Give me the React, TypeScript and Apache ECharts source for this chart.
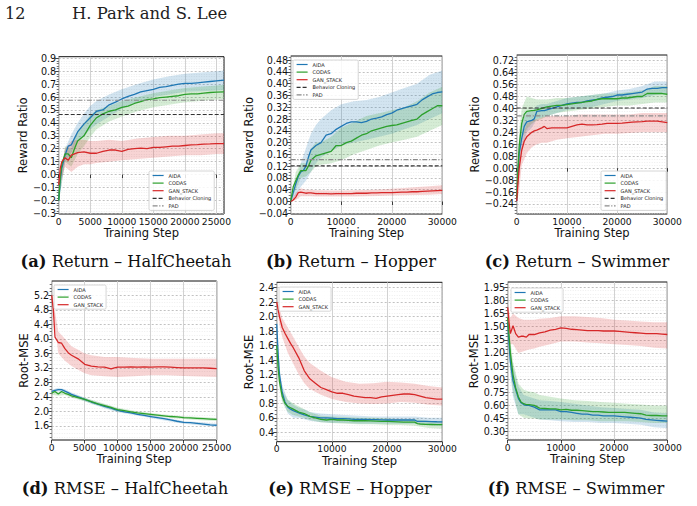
import React, { useEffect, useRef } from 'react';
import * as echarts from 'echarts';

const W = 697;
const H = 506;
const SANS = '"DejaVu Sans", sans-serif';
const SERIF = '"DejaVu Serif", serif';

const COLOR_AIDA = '#1f77b4';
const COLOR_CODAS = '#2ca02c';
const COLOR_GAN = '#d62728';
const COLOR_BC = '#333333';
const COLOR_PAD = '#8a8a8a';

const METHODS = ['AIDA', 'CODAS', 'GAN_STACK'];
const BASELINES = ['Behavior Cloning', 'PAD'];

// ---------- (a) Return – HalfCheetah ----------
const A_STEPS = [0, 250, 500, 1000, 1500, 2000, 2500, 3000, 4000, 5000, 6000, 7000, 8000, 9000, 10000, 11000, 12000, 13000, 14000, 15000, 16000, 17000, 18000, 19000, 20000, 21000, 22000, 23000, 24000, 25000, 26200];
const A_AIDA = [-0.2, -0.05, 0.05, 0.15, 0.22, 0.23, 0.28, 0.33, 0.39, 0.44, 0.49, 0.5, 0.54, 0.56, 0.585, 0.605, 0.62, 0.64, 0.65, 0.66, 0.675, 0.68, 0.69, 0.7, 0.705, 0.705, 0.71, 0.715, 0.72, 0.725, 0.73];
const A_CODAS = [-0.2, -0.02, 0.08, 0.16, 0.16, 0.13, 0.2, 0.26, 0.3, 0.38, 0.44, 0.47, 0.49, 0.5, 0.52, 0.53, 0.55, 0.565, 0.58, 0.585, 0.595, 0.6, 0.605, 0.61, 0.62, 0.625, 0.625, 0.63, 0.635, 0.638, 0.64];
const A_GAN = [-0.08, 0.05, 0.1, 0.13, 0.11, 0.15, 0.16, 0.17, 0.175, 0.165, 0.165, 0.18, 0.19, 0.19, 0.18, 0.195, 0.2, 0.205, 0.2, 0.21, 0.21, 0.215, 0.22, 0.22, 0.225, 0.23, 0.232, 0.235, 0.237, 0.24, 0.24];
const A_BAND_STEPS = [0, 1000, 2000, 3000, 4000, 5000, 6000, 8000, 10000, 12500, 15000, 17500, 20000, 22500, 25000, 26200];
const A_AIDA_LO = [-0.22, 0.09, 0.17, 0.26, 0.3, 0.35, 0.39, 0.45, 0.51, 0.56, 0.6, 0.62, 0.64, 0.645, 0.65, 0.655];
const A_AIDA_HI = [-0.18, 0.2, 0.31, 0.4, 0.47, 0.53, 0.57, 0.62, 0.66, 0.7, 0.735, 0.76, 0.78, 0.79, 0.8, 0.805];
const A_CODAS_LO = [-0.22, 0.1, 0.06, 0.16, 0.22, 0.29, 0.35, 0.41, 0.45, 0.49, 0.52, 0.54, 0.56, 0.57, 0.58, 0.585];
const A_CODAS_HI = [-0.18, 0.22, 0.2, 0.34, 0.4, 0.46, 0.5, 0.53, 0.57, 0.6, 0.63, 0.65, 0.67, 0.68, 0.69, 0.695];
const A_GAN_LO = [-0.12, 0.06, 0.02, 0.06, 0.08, 0.08, 0.09, 0.1, 0.11, 0.12, 0.13, 0.14, 0.15, 0.15, 0.16, 0.16];
const A_GAN_HI = [-0.04, 0.2, 0.26, 0.27, 0.27, 0.26, 0.26, 0.27, 0.26, 0.28, 0.29, 0.3, 0.3, 0.31, 0.32, 0.32];
const A_BC = 0.465;
const A_PAD = 0.575;

// ---------- (b) Return – Hopper ----------
const B_STEPS = [0, 500, 1000, 1500, 2000, 2500, 3000, 3500, 4000, 5000, 6000, 7000, 8000, 9000, 10000, 11000, 12000, 13000, 14000, 15000, 16000, 17000, 18000, 19000, 20000, 21000, 22000, 23000, 24000, 25000, 26000, 27000, 28000, 29000, 30000];
const B_AIDA = [0, 0.03, 0.06, 0.085, 0.1, 0.105, 0.12, 0.15, 0.175, 0.19, 0.2, 0.225, 0.23, 0.245, 0.255, 0.265, 0.27, 0.27, 0.268, 0.272, 0.28, 0.283, 0.287, 0.295, 0.3, 0.31, 0.315, 0.32, 0.325, 0.33, 0.345, 0.355, 0.365, 0.37, 0.372];
const B_CODAS = [0, 0.05, 0.07, 0.09, 0.105, 0.105, 0.105, 0.12, 0.14, 0.155, 0.16, 0.165, 0.17, 0.19, 0.19, 0.2, 0.205, 0.215, 0.225, 0.23, 0.24, 0.245, 0.25, 0.255, 0.258, 0.26, 0.265, 0.27, 0.275, 0.28, 0.295, 0.305, 0.315, 0.325, 0.325];
const B_GAN = [0, 0.005, 0.015, 0.03, 0.032, 0.03, 0.028, 0.029, 0.029, 0.027, 0.027, 0.027, 0.026, 0.027, 0.027, 0.027, 0.027, 0.028, 0.028, 0.028, 0.029, 0.029, 0.03, 0.03, 0.03, 0.031, 0.032, 0.032, 0.033, 0.033, 0.034, 0.035, 0.036, 0.037, 0.038];
const B_BAND_STEPS = [0, 1000, 2000, 3000, 4000, 5000, 6000, 8000, 10000, 12500, 15000, 17500, 20000, 22500, 25000, 27500, 30000];
const B_AIDA_LO = [0, 0.02, 0.05, 0.07, 0.1, 0.13, 0.15, 0.17, 0.19, 0.2, 0.21, 0.22, 0.23, 0.245, 0.26, 0.28, 0.3];
const B_AIDA_HI = [0, 0.06, 0.13, 0.18, 0.23, 0.26, 0.28, 0.31, 0.33, 0.34, 0.345, 0.355, 0.37, 0.385, 0.4, 0.43, 0.445];
const B_CODAS_LO = [0, 0.04, 0.08, 0.085, 0.1, 0.12, 0.125, 0.13, 0.14, 0.16, 0.175, 0.19, 0.2, 0.21, 0.22, 0.24, 0.26];
const B_CODAS_HI = [0, 0.1, 0.13, 0.13, 0.18, 0.2, 0.2, 0.22, 0.25, 0.27, 0.29, 0.3, 0.31, 0.32, 0.34, 0.37, 0.39];
const B_GAN_LO = [0, 0.005, 0.018, 0.018, 0.018, 0.017, 0.017, 0.017, 0.017, 0.017, 0.018, 0.019, 0.02, 0.021, 0.022, 0.023, 0.025];
const B_GAN_HI = [0, 0.03, 0.045, 0.04, 0.04, 0.038, 0.038, 0.037, 0.037, 0.038, 0.039, 0.041, 0.043, 0.046, 0.049, 0.052, 0.055];
const B_BC = 0.121;
const B_PAD = 0.142;

// ---------- (c) Return – Swimmer ----------
const C_STEPS = [0, 250, 500, 1000, 1500, 2000, 3000, 3500, 4000, 5000, 5500, 6000, 7000, 8000, 9000, 10000, 11000, 12000, 13000, 14000, 15000, 16000, 17000, 18000, 19000, 20000, 21000, 22000, 23000, 24000, 25000, 26000, 27000, 28000, 29000, 30000];
const C_AIDA = [-0.22, -0.05, 0.1, 0.2, 0.28, 0.31, 0.32, 0.33, 0.38, 0.385, 0.385, 0.39, 0.4, 0.41, 0.42, 0.43, 0.435, 0.44, 0.44, 0.45, 0.455, 0.46, 0.47, 0.475, 0.48, 0.49, 0.49, 0.495, 0.5, 0.505, 0.51, 0.53, 0.535, 0.535, 0.54, 0.54];
const C_CODAS = [-0.2, 0, 0.15, 0.3, 0.36, 0.38, 0.385, 0.387, 0.39, 0.4, 0.405, 0.41, 0.415, 0.42, 0.42, 0.425, 0.43, 0.435, 0.44, 0.445, 0.45, 0.46, 0.465, 0.465, 0.465, 0.465, 0.47, 0.47, 0.475, 0.48, 0.48, 0.5, 0.5, 0.5, 0.5, 0.495];
const C_GAN = [-0.22, -0.1, 0, 0.12, 0.18, 0.21, 0.24, 0.25, 0.255, 0.27, 0.28, 0.265, 0.27, 0.27, 0.27, 0.27, 0.28, 0.29, 0.295, 0.29, 0.29, 0.292, 0.295, 0.3, 0.3, 0.3, 0.302, 0.305, 0.308, 0.31, 0.312, 0.315, 0.315, 0.315, 0.31, 0.305];
const C_BAND_STEPS = [0, 500, 1000, 2000, 3000, 4000, 5000, 6000, 8000, 10000, 12500, 15000, 17500, 20000, 22500, 25000, 27500, 30000];
const C_AIDA_LO = [-0.24, 0, 0.12, 0.24, 0.27, 0.33, 0.34, 0.35, 0.37, 0.39, 0.4, 0.41, 0.43, 0.45, 0.46, 0.47, 0.49, 0.5];
const C_AIDA_HI = [-0.2, 0.2, 0.3, 0.38, 0.38, 0.42, 0.43, 0.43, 0.45, 0.47, 0.48, 0.49, 0.5, 0.52, 0.53, 0.55, 0.58, 0.58];
const C_CODAS_LO = [-0.22, 0.05, 0.2, 0.26, 0.3, 0.32, 0.33, 0.35, 0.37, 0.38, 0.39, 0.4, 0.41, 0.42, 0.42, 0.43, 0.44, 0.44];
const C_CODAS_HI = [-0.18, 0.25, 0.4, 0.48, 0.47, 0.46, 0.46, 0.46, 0.47, 0.47, 0.48, 0.49, 0.5, 0.5, 0.51, 0.52, 0.55, 0.55];
const C_GAN_LO = [-0.24, -0.15, 0.02, 0.1, 0.14, 0.16, 0.17, 0.17, 0.19, 0.2, 0.21, 0.22, 0.23, 0.23, 0.235, 0.24, 0.24, 0.24];
const C_GAN_HI = [-0.2, 0.1, 0.2, 0.3, 0.32, 0.33, 0.34, 0.35, 0.35, 0.35, 0.36, 0.36, 0.36, 0.36, 0.36, 0.37, 0.37, 0.37];
const C_BC = 0.403;
const C_PAD = 0.35;

// ---------- (d) RMSE – HalfCheetah ----------
const D_STEPS = [0, 250, 500, 1000, 1500, 2000, 2500, 3000, 4000, 5000, 6000, 7000, 8000, 9000, 9500, 10000, 11000, 12000, 13000, 14000, 15000, 16000, 17000, 18000, 19000, 20000, 21000, 22000, 23000, 24000, 25000];
const D_AIDA = [2.55, 2.57, 2.58, 2.6, 2.6, 2.56, 2.52, 2.47, 2.4, 2.33, 2.26, 2.2, 2.14, 2.09, 2.06, 2.03, 1.99, 1.96, 1.92, 1.89, 1.86, 1.83, 1.8, 1.77, 1.73, 1.7, 1.69, 1.67, 1.65, 1.63, 1.62];
const D_CODAS = [2.5, 2.53, 2.55, 2.48, 2.55, 2.5, 2.47, 2.43, 2.38, 2.33, 2.27, 2.21, 2.16, 2.11, 2.08, 2.05, 2.02, 1.99, 1.96, 1.94, 1.92, 1.9, 1.88, 1.86, 1.85, 1.83, 1.82, 1.81, 1.8, 1.79, 1.78];
const D_GAN = [5.2, 4.8, 4.05, 3.9, 3.88, 3.73, 3.62, 3.55, 3.45, 3.3, 3.25, 3.23, 3.22, 3.17, 3.2, 3.22, 3.22, 3.23, 3.22, 3.23, 3.22, 3.23, 3.23, 3.22, 3.21, 3.2, 3.2, 3.2, 3.2, 3.19, 3.18];
const D_BAND_STEPS = [0, 1000, 2000, 3000, 4000, 5000, 6000, 8000, 10000, 12500, 15000, 17500, 20000, 22500, 25000];
const D_AIDA_LO = [2.5, 2.55, 2.51, 2.42, 2.35, 2.28, 2.21, 2.09, 1.98, 1.9, 1.82, 1.74, 1.66, 1.62, 1.58];
const D_AIDA_HI = [2.6, 2.65, 2.61, 2.52, 2.45, 2.38, 2.31, 2.19, 2.08, 1.98, 1.9, 1.82, 1.74, 1.7, 1.66];
const D_CODAS_LO = [2.46, 2.43, 2.45, 2.38, 2.33, 2.28, 2.22, 2.11, 2.0, 1.93, 1.88, 1.83, 1.79, 1.76, 1.74];
const D_CODAS_HI = [2.54, 2.53, 2.55, 2.48, 2.43, 2.38, 2.32, 2.21, 2.1, 2.02, 1.96, 1.91, 1.87, 1.85, 1.82];
const D_GAN_LO = [5.1, 3.6, 3.4, 3.25, 3.15, 3.05, 3.0, 2.97, 2.95, 2.97, 3.0, 3.0, 2.98, 2.96, 2.95];
const D_GAN_HI = [5.3, 4.2, 4.0, 3.8, 3.7, 3.6, 3.55, 3.5, 3.5, 3.47, 3.45, 3.45, 3.45, 3.45, 3.45];

// ---------- (e) RMSE – Hopper ----------
const E_STEPS = [0, 250, 500, 1000, 1500, 2000, 2500, 3000, 4000, 5000, 6000, 7000, 8000, 9000, 10000, 11000, 12000, 13000, 14000, 15000, 16000, 17000, 18000, 19000, 20000, 21000, 22000, 23000, 24000, 25000, 25500, 26000, 27000, 28000, 29000, 30000];
const E_AIDA = [1.9, 1.5, 1.2, 0.95, 0.82, 0.75, 0.72, 0.7, 0.67, 0.64, 0.62, 0.61, 0.6, 0.6, 0.595, 0.59, 0.59, 0.585, 0.58, 0.58, 0.578, 0.575, 0.575, 0.572, 0.57, 0.57, 0.57, 0.57, 0.57, 0.57, 0.55, 0.55, 0.55, 0.548, 0.546, 0.545];
const E_CODAS = [1.6, 1.3, 1.1, 0.9, 0.8, 0.76, 0.74, 0.72, 0.68, 0.66, 0.62, 0.6, 0.58, 0.57, 0.58, 0.57, 0.57, 0.565, 0.56, 0.56, 0.56, 0.558, 0.555, 0.552, 0.55, 0.548, 0.545, 0.542, 0.54, 0.54, 0.52, 0.515, 0.51, 0.508, 0.505, 0.505];
const E_GAN = [2.2, 2.1, 2.0, 1.85, 1.77, 1.7, 1.63, 1.57, 1.43, 1.25, 1.14, 1.08, 1.02, 0.99, 0.96, 0.94, 0.94, 0.92, 0.9, 0.89, 0.88, 0.88, 0.87, 0.89, 0.9, 0.91, 0.92, 0.93, 0.93, 0.92, 0.91, 0.9, 0.88, 0.87, 0.86, 0.86];
const E_BAND_STEPS = [0, 500, 1000, 2000, 3000, 4000, 5000, 6000, 8000, 10000, 12500, 15000, 17500, 20000, 22500, 25000, 27500, 30000];
const E_AIDA_LO = [1.85, 1.1, 0.85, 0.66, 0.6, 0.6, 0.58, 0.56, 0.54, 0.53, 0.53, 0.52, 0.52, 0.52, 0.52, 0.52, 0.5, 0.49];
const E_AIDA_HI = [1.95, 1.3, 1.05, 0.85, 0.78, 0.74, 0.72, 0.68, 0.66, 0.65, 0.64, 0.63, 0.62, 0.62, 0.62, 0.62, 0.6, 0.6];
const E_CODAS_LO = [1.55, 1.0, 0.82, 0.68, 0.64, 0.62, 0.6, 0.57, 0.54, 0.53, 0.52, 0.51, 0.51, 0.5, 0.5, 0.49, 0.46, 0.45];
const E_CODAS_HI = [1.65, 1.2, 0.98, 0.85, 0.8, 0.76, 0.72, 0.68, 0.63, 0.62, 0.61, 0.6, 0.6, 0.59, 0.58, 0.58, 0.56, 0.55];
const E_GAN_LO = [2.15, 1.88, 1.72, 1.5, 1.35, 1.2, 1.08, 1.0, 0.92, 0.86, 0.82, 0.8, 0.79, 0.8, 0.82, 0.81, 0.78, 0.77];
const E_GAN_HI = [2.25, 2.12, 1.98, 1.85, 1.72, 1.58, 1.45, 1.36, 1.25, 1.16, 1.1, 1.07, 1.08, 1.1, 1.09, 1.07, 1.04, 1.02];

// ---------- (f) RMSE – Swimmer ----------
const F_STEPS = [0, 250, 500, 1000, 1500, 2000, 2500, 3000, 3500, 4000, 5000, 6000, 7000, 8000, 9000, 10000, 11000, 12000, 13000, 14000, 15000, 16000, 17000, 18000, 19000, 20000, 21000, 22000, 23000, 24000, 25000, 26000, 27000, 28000, 29000, 30000];
const F_AIDA = [1.55, 1.3, 1.1, 0.88, 0.78, 0.68, 0.63, 0.61, 0.6, 0.6, 0.58, 0.55, 0.55, 0.55, 0.55, 0.53, 0.53, 0.52, 0.51, 0.5, 0.5, 0.49, 0.49, 0.48, 0.48, 0.48, 0.475, 0.47, 0.465, 0.46, 0.455, 0.44, 0.435, 0.43, 0.425, 0.42];
const F_CODAS = [1.6, 1.4, 1.2, 0.95, 0.8, 0.7, 0.64, 0.62, 0.61, 0.61, 0.6, 0.57, 0.565, 0.56, 0.56, 0.55, 0.555, 0.545, 0.545, 0.54, 0.535, 0.53, 0.53, 0.525, 0.52, 0.52, 0.52, 0.52, 0.515, 0.51, 0.505, 0.49, 0.485, 0.485, 0.48, 0.48];
const F_GAN = [1.72, 1.55, 1.42, 1.51, 1.42, 1.38, 1.39, 1.39, 1.38, 1.41, 1.41, 1.43, 1.44, 1.46, 1.47, 1.485, 1.48, 1.47, 1.465, 1.46, 1.455, 1.455, 1.455, 1.45, 1.45, 1.45, 1.445, 1.44, 1.435, 1.43, 1.425, 1.42, 1.42, 1.42, 1.415, 1.41];
const F_BAND_STEPS = [0, 500, 1000, 2000, 3000, 4000, 5000, 6000, 8000, 10000, 12500, 15000, 17500, 20000, 22500, 25000, 27500, 30000];
const F_AIDA_LO = [1.5, 0.95, 0.7, 0.5, 0.5, 0.48, 0.46, 0.44, 0.43, 0.42, 0.41, 0.41, 0.4, 0.4, 0.39, 0.38, 0.35, 0.34];
const F_AIDA_HI = [1.6, 1.25, 1.05, 0.82, 0.72, 0.7, 0.68, 0.66, 0.65, 0.64, 0.62, 0.6, 0.58, 0.57, 0.56, 0.55, 0.52, 0.51];
const F_CODAS_LO = [1.55, 1.0, 0.75, 0.5, 0.46, 0.45, 0.45, 0.44, 0.44, 0.44, 0.43, 0.43, 0.42, 0.42, 0.42, 0.41, 0.4, 0.4];
const F_CODAS_HI = [1.65, 1.35, 1.1, 0.85, 0.78, 0.76, 0.75, 0.72, 0.7, 0.68, 0.66, 0.65, 0.64, 0.63, 0.62, 0.61, 0.6, 0.6];
const F_GAN_LO = [1.65, 1.3, 1.3, 1.2, 1.22, 1.24, 1.25, 1.27, 1.3, 1.33, 1.33, 1.32, 1.31, 1.3, 1.29, 1.28, 1.26, 1.25];
const F_GAN_HI = [1.78, 1.6, 1.65, 1.6, 1.58, 1.58, 1.58, 1.59, 1.6, 1.62, 1.62, 1.61, 1.6, 1.58, 1.57, 1.56, 1.55, 1.55];

// ---------- axis ticks ----------
const X_TICKS_25K = [0, 5000, 10000, 15000, 20000, 25000];
const X_TICKS_30K = [0, 10000, 20000, 30000];
const A_Y_TICKS = [-0.3, -0.2, -0.1, 0, 0.1, 0.2, 0.3, 0.4, 0.5, 0.6, 0.7, 0.8, 0.9];
const B_Y_TICKS = [-0.04, 0, 0.04, 0.08, 0.12, 0.16, 0.2, 0.24, 0.28, 0.32, 0.36, 0.4, 0.44, 0.48];
const C_Y_TICKS = [-0.24, -0.16, -0.08, 0, 0.08, 0.16, 0.24, 0.32, 0.4, 0.48, 0.56, 0.64, 0.72];
const D_Y_TICKS = [1.6, 2.0, 2.4, 2.8, 3.2, 3.6, 4.0, 4.4, 4.8, 5.2];
const E_Y_TICKS = [0.4, 0.6, 0.8, 1.0, 1.2, 1.4, 1.6, 1.8, 2.0, 2.2, 2.4];
const F_Y_TICKS = [0.3, 0.45, 0.6, 0.75, 0.9, 1.05, 1.2, 1.35, 1.5, 1.65, 1.8, 1.95];

const CAPTIONS = [
  ['(a)', 'Return – HalfCheetah'],
  ['(b)', 'Return – Hopper'],
  ['(c)', 'Return – Swimmer'],
  ['(d)', 'RMSE – HalfCheetah'],
  ['(e)', 'RMSE – Hopper'],
  ['(f)', 'RMSE – Swimmer'],
];

type Panel = {
  steps: number[];
  means: number[][];
  bandSteps: number[];
  bands: number[][][];
  baselines: number[] | null;
  xMax: number;
  xTicks: number[];
  yRange: [number, number];
  yTicks: number[];
  minorDivs: number;
  decimals: number;
  yName: string;
};

const PANELS: Panel[] = [
  {
    steps: A_STEPS, means: [A_AIDA, A_CODAS, A_GAN], bandSteps: A_BAND_STEPS,
    bands: [[A_AIDA_LO, A_AIDA_HI], [A_CODAS_LO, A_CODAS_HI], [A_GAN_LO, A_GAN_HI]],
    baselines: [A_BC, A_PAD], xMax: 26200, xTicks: X_TICKS_25K,
    yRange: [-0.305, 0.912], yTicks: A_Y_TICKS, minorDivs: 5, decimals: 1, yName: 'Reward Ratio',
  },
  {
    steps: B_STEPS, means: [B_AIDA, B_CODAS, B_GAN], bandSteps: B_BAND_STEPS,
    bands: [[B_AIDA_LO, B_AIDA_HI], [B_CODAS_LO, B_CODAS_HI], [B_GAN_LO, B_GAN_HI]],
    baselines: [B_BC, B_PAD], xMax: 30000, xTicks: X_TICKS_30K,
    yRange: [-0.0425, 0.494], yTicks: B_Y_TICKS, minorDivs: 4, decimals: 2, yName: 'Reward Ratio',
  },
  {
    steps: C_STEPS, means: [C_AIDA, C_CODAS, C_GAN], bandSteps: C_BAND_STEPS,
    bands: [[C_AIDA_LO, C_AIDA_HI], [C_CODAS_LO, C_CODAS_HI], [C_GAN_LO, C_GAN_HI]],
    baselines: [C_BC, C_PAD], xMax: 30000, xTicks: X_TICKS_30K,
    yRange: [-0.307, 0.758], yTicks: C_Y_TICKS, minorDivs: 4, decimals: 2, yName: 'Reward Ratio',
  },
  {
    steps: D_STEPS, means: [D_AIDA, D_CODAS, D_GAN], bandSteps: D_BAND_STEPS,
    bands: [[D_AIDA_LO, D_AIDA_HI], [D_CODAS_LO, D_CODAS_HI], [D_GAN_LO, D_GAN_HI]],
    baselines: null, xMax: 25000, xTicks: X_TICKS_25K,
    yRange: [1.213, 5.595], yTicks: D_Y_TICKS, minorDivs: 4, decimals: 1, yName: 'Root-MSE',
  },
  {
    steps: E_STEPS, means: [E_AIDA, E_CODAS, E_GAN], bandSteps: E_BAND_STEPS,
    bands: [[E_AIDA_LO, E_AIDA_HI], [E_CODAS_LO, E_CODAS_HI], [E_GAN_LO, E_GAN_HI]],
    baselines: null, xMax: 30000, xTicks: X_TICKS_30K,
    yRange: [0.27, 2.475], yTicks: E_Y_TICKS, minorDivs: 4, decimals: 1, yName: 'Root-MSE',
  },
  {
    steps: F_STEPS, means: [F_AIDA, F_CODAS, F_GAN], bandSteps: F_BAND_STEPS,
    bands: [[F_AIDA_LO, F_AIDA_HI], [F_CODAS_LO, F_CODAS_HI], [F_GAN_LO, F_GAN_HI]],
    baselines: null, xMax: 30000, xTicks: X_TICKS_30K,
    yRange: [0.205, 2.01], yTicks: F_Y_TICKS, minorDivs: 4, decimals: 2, yName: 'Root-MSE',
  },
];

// plot boxes: left, top, right, bottom (px)
const BOXES = [
  [58.7, 56.7, 224, 214],
  [290.7, 56, 442.3, 214],
  [516.7, 55, 667.3, 214],
  [51.7, 281, 216.7, 440],
  [276.7, 282.3, 442.3, 441.7],
  [507.7, 282, 667.3, 440],
];
const Y_NAME_GAP = [26.5, 33.5, 34.5, 20.2, 20.2, 25.5];
const X_NAME_GAP = [13, 13, 13, 13, 13, 13];
const LEGEND_POS = [
  [149, 171], [293, 60], [601, 171],
  [54, 285], [279, 287], [511, 288],
];
const CAPTION_POS = [
  [126, 261], [351, 261], [577, 261],
  [125, 488], [350, 488], [576, 488],
];

const METHOD_COLORS = [COLOR_AIDA, COLOR_CODAS, COLOR_GAN];
const BAND_COLORS = ['rgba(31,119,180,0.2)', 'rgba(44,160,44,0.2)', 'rgba(214,39,40,0.2)'];
const TICK_FONT = 9.2;
const NAME_FONT = 11.5;

const pairs = (xs: number[], ys: number[]) => xs.map((x, i) => [x, ys[i]]);

function minorTicks(ticks: number[], divs: number, range: [number, number]) {
  const step = (ticks[1] - ticks[0]) / divs;
  const out: number[] = [];
  const first = ticks[0] - step * divs;
  for (let k = 0; ; k++) {
    const v = +(first + k * step).toFixed(6);
    if (v > range[1]) break;
    if (v < range[0]) continue;
    if (k % divs === 0) continue;
    out.push(v);
  }
  return out;
}

function fmtTick(v: number, decimals: number) {
  const s = Math.abs(v) < 1e-9 ? (0).toFixed(decimals) : v.toFixed(decimals);
  return s.replace('-', '\u2212');
}

// one filled polygon between the lower and upper edge of a spread band
function bandRenderer(fill: string) {
  return (params: any, api: any) => {
    if (params.dataIndexInside !== 0) return null;
    const n = params.dataInsideLength;
    const upper: number[][] = [];
    const lower: number[][] = [];
    for (let j = 0; j < n; j++) {
      const x = api.value(0, j);
      lower.push(api.coord([x, api.value(1, j)]));
      upper.push(api.coord([x, api.value(2, j)]));
    }
    const cs = params.coordSys;
    return {
      type: 'polygon',
      shape: { points: upper.concat(lower.reverse()) },
      style: { fill, stroke: 'none' },
      clipPath: { type: 'rect', shape: { x: cs.x, y: cs.y, width: cs.width, height: cs.height } },
    };
  };
}

function buildOption() {
  const grid: any[] = [];
  const xAxis: any[] = [];
  const yAxis: any[] = [];
  const series: any[] = [];
  const legend: any[] = [];

  PANELS.forEach((p, i) => {
    const [l, t, r, b] = BOXES[i];
    grid.push({
      left: l, top: t, width: r - l, height: b - t,
      show: true, borderColor: '#111', borderWidth: 1, backgroundColor: 'transparent',
    });

    xAxis.push({
      type: 'value', gridIndex: i, min: 0, max: p.xMax,
      name: 'Training Step', nameLocation: 'middle', nameGap: X_NAME_GAP[i],
      nameTextStyle: { fontSize: NAME_FONT, color: '#111', fontFamily: SANS },
      axisLine: { show: false },
      axisTick: { show: true, length: 3.5, customValues: p.xTicks, lineStyle: { color: '#111', width: 0.8 } },
      axisLabel: {
        customValues: p.xTicks, fontSize: TICK_FONT, color: '#111', margin: 2.5, fontFamily: SANS,
        showMinLabel: true, showMaxLabel: true, hideOverlap: false,
        formatter: (v: number) => String(Math.round(v)),
      },
      splitLine: { show: true, lineStyle: { color: '#cdcdcd', width: 0.9, type: 'solid' } },
    });

    yAxis.push({
      type: 'value', gridIndex: i, position: 'left', min: p.yRange[0], max: p.yRange[1],
      name: p.yName, nameLocation: 'middle', nameGap: Y_NAME_GAP[i],
      nameTextStyle: { fontSize: NAME_FONT, color: '#111', fontFamily: SANS },
      axisLine: { show: false },
      axisTick: { show: true, length: 3.5, customValues: p.yTicks, lineStyle: { color: '#111', width: 0.8 } },
      axisLabel: {
        customValues: p.yTicks, fontSize: TICK_FONT + 0.4, color: '#111', margin: 2.5, fontFamily: SANS,
        showMinLabel: true, showMaxLabel: true, hideOverlap: false,
        formatter: (v: number) => fmtTick(v, p.decimals),
      },
      splitLine: { show: true, lineStyle: { color: '#b3b3b3', width: 0.8, type: [2, 2] } },
    });
    yAxis.push({
      type: 'value', gridIndex: i, position: 'left', min: p.yRange[0], max: p.yRange[1],
      axisLine: { show: false },
      axisLabel: { show: false },
      axisTick: {
        show: true, length: 2, customValues: minorTicks(p.yTicks, p.minorDivs, p.yRange),
        lineStyle: { color: '#111', width: 0.6 },
      },
      splitLine: { show: true, lineStyle: { color: '#e3e3e3', width: 0.6, type: [1, 1.5] } },
    });

    // shaded spread bands
    p.bands.forEach(([lo, hi], k) => {
      series.push({
        type: 'custom', name: `${METHODS[k]} spread`, xAxisIndex: i, yAxisIndex: 2 * i,
        data: p.bandSteps.map((x, j) => [x, lo[j], hi[j]]),
        encode: { x: 0, y: [1, 2] },
        renderItem: bandRenderer(BAND_COLORS[k]),
        silent: true, z: 1,
      });
    });

    // mean curves
    p.means.forEach((vals, k) => {
      series.push({
        type: 'line', name: METHODS[k], xAxisIndex: i, yAxisIndex: 2 * i,
        data: pairs(p.steps, vals), symbol: 'none', showSymbol: false, silent: true, z: 3,
        lineStyle: { color: METHOD_COLORS[k], width: 1.3 },
        itemStyle: { color: METHOD_COLORS[k] },
      });
    });

    if (p.baselines) {
      const [bc, pad] = p.baselines;
      series.push({
        type: 'line', name: BASELINES[0], xAxisIndex: i, yAxisIndex: 2 * i,
        data: [[0, bc], [p.xMax, bc]], symbol: 'none', showSymbol: false, silent: true, z: 4,
        lineStyle: { color: COLOR_BC, width: 1.1, type: [4, 2] },
        itemStyle: { color: COLOR_BC },
      });
      series.push({
        type: 'line', name: BASELINES[1], xAxisIndex: i, yAxisIndex: 2 * i,
        data: [[0, pad], [p.xMax, pad]], symbol: 'none', showSymbol: false, silent: true, z: 4,
        lineStyle: { color: COLOR_PAD, width: 1.1, type: [5, 1.6, 1.2, 1.6] },
        itemStyle: { color: COLOR_PAD },
      });
    }

    legend.push({
      orient: 'vertical', left: LEGEND_POS[i][0], top: LEGEND_POS[i][1],
      data: p.baselines ? [...METHODS, ...BASELINES] : [...METHODS],
      itemWidth: 11, itemHeight: 5, itemGap: 2.6,
      padding: [2, 3, 2, 3],
      selectedMode: false,
      backgroundColor: 'rgba(255,255,255,0.85)',
      borderColor: '#cccccc', borderWidth: 0.8, borderRadius: 1.5,
      itemStyle: { opacity: 0 },
      lineStyle: { width: 1.2 },
      textStyle: { fontSize: 5, color: '#222', fontFamily: SANS },
    });
  });

  const graphic: any[] = [
    {
      type: 'text', x: 5, y: 13,
      style: { text: '12', fontSize: 16, fontFamily: SERIF, fill: '#222', align: 'left', verticalAlign: 'middle' },
    },
    {
      type: 'text', x: 72, y: 13,
      style: { text: 'H. Park and S. Lee', fontSize: 16.4, fontFamily: SERIF, fill: '#222', align: 'left', verticalAlign: 'middle' },
    },
  ];
  CAPTIONS.forEach(([tag, title], i) => {
    graphic.push({
      type: 'text', x: CAPTION_POS[i][0], y: CAPTION_POS[i][1],
      style: {
        text: `{b|${tag}} ${title}`,
        fontSize: 16.3, fontFamily: SERIF, fill: '#111', align: 'center', verticalAlign: 'middle',
        rich: { b: { fontSize: 16.3, fontFamily: SERIF, fontWeight: 'bold', fill: '#111' } },
      },
    });
  });

  return {
    animation: false,
    backgroundColor: '#ffffff',
    grid, xAxis, yAxis, series, legend, graphic,
  };
}

export default function App() {
  const ref = useRef<HTMLDivElement>(null);
  useEffect(() => {
    if (!ref.current) return;
    const chart = echarts.init(ref.current, null, { renderer: 'svg' });
    chart.setOption(buildOption() as any);
    return () => chart.dispose();
  }, []);
  return (
    <div
      ref={ref}
      style={{ position: 'fixed', left: 0, top: 0, width: W, height: H, background: '#fff' }}
    />
  );
}
